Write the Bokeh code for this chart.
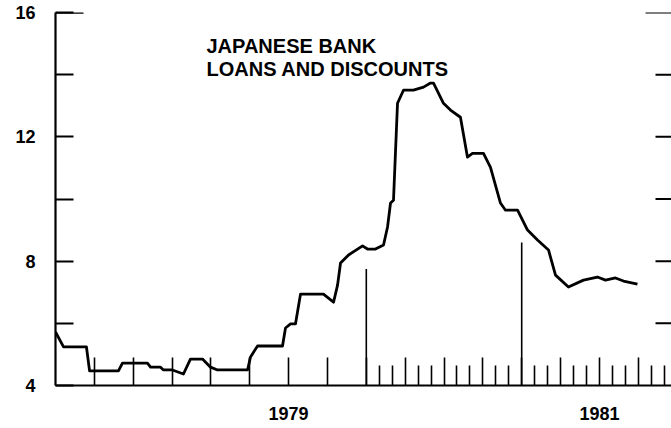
from bokeh.plotting import figure
from bokeh.models import Range1d, FixedTicker, Label
from bokeh.embed import file_html
from bokeh.resources import INLINE

# ---- data (x = months since Jan 1978, y = percent) ----
months = [0.00, 0.62, 2.39, 2.63, 4.86, 5.17, 7.10, 7.34, 8.11, 8.34, 9.03, 9.88,
          10.42, 11.35, 11.97, 12.51, 14.83, 15.06, 15.60, 17.53, 17.76, 18.15,
          18.53, 18.92, 20.69, 21.47, 21.78, 22.01, 22.63, 23.71, 24.09, 24.71,
          25.33, 25.64, 25.87, 26.10, 26.41, 26.87, 27.64, 28.42, 28.96, 29.19,
          29.96, 30.50, 31.27, 31.81, 32.20, 33.05, 33.59, 34.36, 34.75, 35.68,
          36.45, 37.22, 38.07, 38.61, 39.61, 40.77, 41.85, 42.47, 43.24, 43.86, 44.94]
rates = [5.72, 5.24, 5.24, 4.47, 4.47, 4.72, 4.72, 4.59, 4.59, 4.50, 4.50, 4.37,
         4.85, 4.85, 4.59, 4.50, 4.50, 4.92, 5.27, 5.27, 5.85, 5.98,
         5.98, 6.94, 6.94, 6.68, 7.23, 7.94, 8.20, 8.49, 8.39, 8.39,
         8.52, 9.10, 9.87, 9.96, 13.08, 13.50, 13.50, 13.60, 13.73, 13.73,
         13.08, 12.86, 12.63, 11.35, 11.47, 11.47, 11.02, 9.87, 9.64, 9.64,
         9.00, 8.68, 8.36, 7.55, 7.17, 7.39, 7.49, 7.39, 7.46, 7.36, 7.26]

y_ticks = [4, 6, 8, 10, 12, 14, 16]
y_tick_labels = {4: "4", 6: "", 8: "8", 10: "", 12: "12", 14: "", 16: "16"}
right_ticks = [6, 8, 10, 12, 14, 16]
quarter_ticks = [3, 6, 9, 12, 15, 18, 21, 24, 27, 30, 33, 36, 39, 42, 45]
monthly_ticks = [25, 26, 28, 29, 31, 32, 34, 35, 37, 38, 40, 41, 43, 44, 46, 47]
year_labels = {18: "1979", 42: "1981"}
marker_months = [24, 36]
marker_tops = [7.75, 8.6]
title_lines = ["JAPANESE BANK", "LOANS AND DISCOUNTS"]

# ---- layout ----
W, H = 671, 428
LEFT, TOP, BOTTOM = 55, 12, 43
px_per_month = 12.95
X_END = (W - LEFT) / px_per_month
FONT = "Liberation Sans"

p = figure(width=W, height=H, x_range=Range1d(0, X_END), y_range=Range1d(4, 16),
           output_backend="svg", toolbar_location=None,
           min_border_left=LEFT, min_border_right=0, min_border_top=TOP,
           min_border_bottom=BOTTOM)
p.outline_line_color = None
p.xgrid.visible = False
p.ygrid.visible = False
p.background_fill_color = "white"
p.border_fill_color = "white"

# y axis
ya = p.yaxis[0]
ya.ticker = FixedTicker(ticks=y_ticks)
ya.major_label_overrides = y_tick_labels
ya.major_tick_in = 18
ya.major_tick_out = 0
ya.minor_tick_in = 0
ya.minor_tick_out = 0
ya.axis_line_width = 2.2
ya.major_tick_line_width = 1.8
ya.major_label_standoff = 20
ya.major_label_text_font = FONT
ya.major_label_text_font_style = "bold"
ya.major_label_text_font_size = "18px"
ya.major_label_text_color = "black"

# x axis
xa = p.xaxis[0]
xa.ticker = FixedTicker(ticks=quarter_ticks, minor_ticks=monthly_ticks)
xa.major_label_overrides = {t: year_labels.get(t, "") for t in quarter_ticks}
xa.major_label_standoff = 21
xa.major_label_text_font = FONT
xa.major_label_text_font_style = "bold"
xa.major_label_text_font_size = "18px"
xa.major_label_text_color = "black"
xa.major_tick_in = 28
xa.major_tick_out = 0
xa.minor_tick_in = 20
xa.minor_tick_out = 0
xa.axis_line_width = 2.2
xa.major_tick_line_width = 1.6
xa.minor_tick_line_width = 1.6

# tall vertical markers
p.segment(x0=marker_months, y0=[4] * len(marker_months), x1=marker_months, y1=marker_tops,
          line_color="black", line_width=1.6)

# longer top tick at 16 on left
p.segment(x0=[0], y0=[16], x1=[28 / px_per_month], y1=[16],
          line_color="black", line_width=2.5)

# right-side ticks
rx0 = [X_END - (26 if v == 16 else 16) / px_per_month for v in right_ticks]
p.segment(x0=rx0, y0=right_ticks, x1=[X_END] * len(right_ticks), y1=right_ticks,
          line_color="black", line_width=2.0)

# data line
p.line(months, rates, line_color="black", line_width=2.8, line_join="round")

# title
title_x = (206 - LEFT) / px_per_month
for i, line in enumerate(title_lines):
    p.add_layout(Label(x=title_x, y=14.92 - i * 0.74, text=line, text_align="left",
                       text_baseline="alphabetic", text_font=FONT,
                       text_font_style="bold", text_font_size="20px",
                       text_color="black"))

open("out.html", "w").write(file_html(p, INLINE))
